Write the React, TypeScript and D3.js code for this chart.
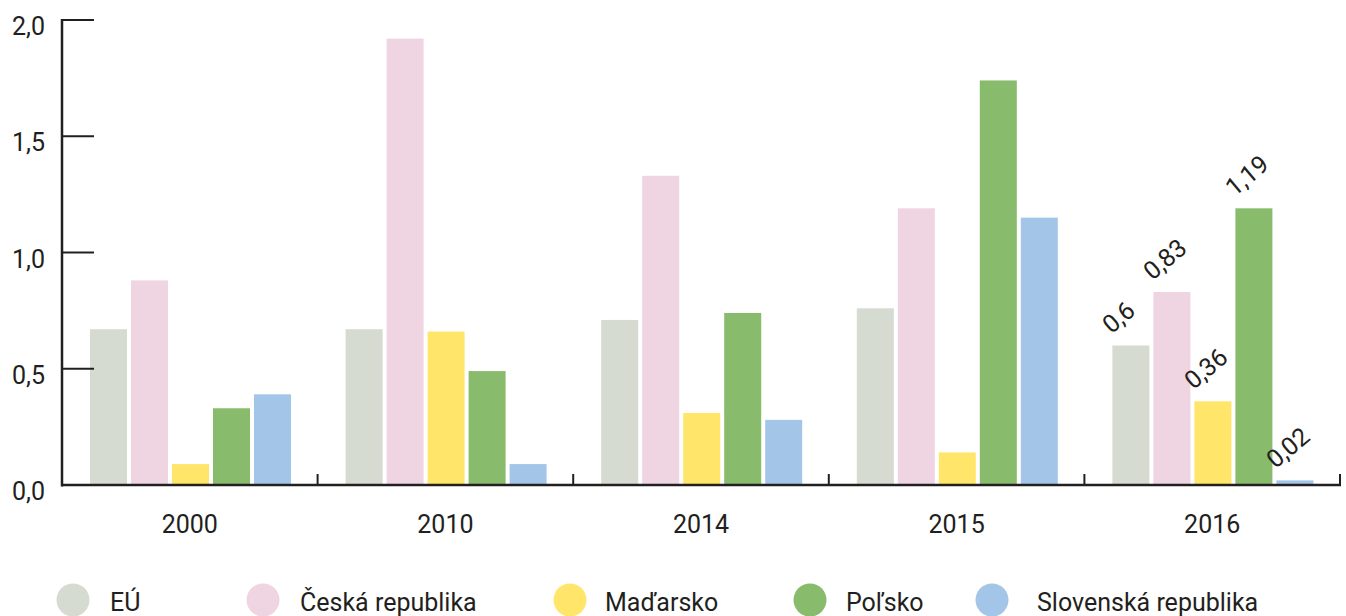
import React, { useEffect, useRef } from "react";
import * as d3 from "d3";

// Years on the x axis
const years = ["2000", "2010", "2014", "2015", "2016"];
// Series (countries)
const countries = ["EÚ", "Česká republika", "Maďarsko", "Poľsko", "Slovenská republika"];
const colors = ["#d5dbd0", "#efd4e2", "#ffe66b", "#88bb6b", "#a3c6e8"];

// values per country, in the order of years
const euValues = [0.67, 0.67, 0.71, 0.76, 0.6];
const czValues = [0.88, 1.92, 1.33, 1.19, 0.83];
const huValues = [0.09, 0.66, 0.31, 0.14, 0.36];
const plValues = [0.33, 0.49, 0.74, 1.74, 1.19];
const skValues = [0.39, 0.09, 0.28, 1.15, 0.02];
const seriesValues = [euValues, czValues, huValues, plValues, skValues];

// only the last year has labels
const labelledYear = "2016";
const yTicks = [0, 0.5, 1.0, 1.5, 2.0];

// legend layout
const legendCircleX = [73, 263, 570, 810, 992];
const legendTextX = [110, 300, 605, 846, 1037];

const FONT = "Roboto, 'Noto Sans', sans-serif";

export default function App() {
  const ref = useRef<SVGSVGElement>(null);

  useEffect(() => {
    const svg = d3.select(ref.current);
    svg.selectAll("*").remove();

    const left = 62,
      right = 1340,
      top = 20,
      bottom = 485;
    const ink = "#231f20";

    const x0 = d3.scaleBand().domain(years).range([left, right]).padding(0);
    const gw = x0.bandwidth();
    const x1 = d3
      .scaleBand()
      .domain(countries)
      .range([28, gw - 26.6])
      .paddingInner(4 / 41)
      .paddingOuter(0);
    const y = d3.scaleLinear().domain([0, 2]).range([bottom, top]);

    // bars
    countries.forEach((c, ci) => {
      svg
        .append("g")
        .selectAll("rect")
        .data(years.map((yr, i) => ({ yr, v: seriesValues[ci][i] })))
        .join("rect")
        .attr("x", (d) => x0(d.yr)! + x1(c)!)
        .attr("y", (d) => y(d.v))
        .attr("width", x1.bandwidth())
        .attr("height", (d) => bottom - y(d.v))
        .attr("fill", colors[ci]);
    });

    // value labels on last year
    const li = years.indexOf(labelledYear);
    countries.forEach((c, ci) => {
      const v = seriesValues[ci][li];
      const lx = x0(labelledYear)! + x1(c)! - 1;
      const ly = y(v) - 11;
      svg
        .append("text")
        .attr("transform", `translate(${lx},${ly}) rotate(-40)`)
        .attr("font-family", FONT)
        .attr("font-size", 25)
        .attr("fill", ink)
        .text(String(v).replace(".", ","));
    });

    // y axis
    svg
      .append("line")
      .attr("x1", left)
      .attr("x2", left)
      .attr("y1", top - 1)
      .attr("y2", bottom + 1.5)
      .attr("stroke", ink)
      .attr("stroke-width", 2.5);
    svg
      .append("g")
      .selectAll("line")
      .data(yTicks)
      .join("line")
      .attr("x1", left)
      .attr("x2", left + 32)
      .attr("y1", (d) => y(d))
      .attr("y2", (d) => y(d))
      .attr("stroke", ink)
      .attr("stroke-width", 2);
    svg
      .append("g")
      .selectAll("text")
      .data(yTicks)
      .join("text")
      .attr("x", 45)
      .attr("y", (d) => y(d) + 15)
      .attr("text-anchor", "end")
      .attr("font-family", FONT)
      .attr("font-size", 25)
      .attr("fill", ink)
      .text((d) => d3.format(".1f")(d).replace(".", ","));

    // x axis
    svg
      .append("line")
      .attr("x1", left)
      .attr("x2", right + 1)
      .attr("y1", bottom)
      .attr("y2", bottom)
      .attr("stroke", ink)
      .attr("stroke-width", 2.5);
    const bounds = years.map((yr) => x0(yr)! + gw);
    svg
      .append("g")
      .selectAll("line")
      .data(bounds)
      .join("line")
      .attr("x1", (d) => d)
      .attr("x2", (d) => d)
      .attr("y1", bottom)
      .attr("y2", bottom - 11)
      .attr("stroke", ink)
      .attr("stroke-width", 2);
    svg
      .append("g")
      .selectAll("text")
      .data(years)
      .join("text")
      .attr("x", (d) => x0(d)! + gw / 2)
      .attr("y", 533)
      .attr("text-anchor", "middle")
      .attr("font-family", FONT)
      .attr("font-size", 25)
      .attr("fill", ink)
      .text((d) => d);

    // legend
    const lg = svg.append("g");
    countries.forEach((c, i) => {
      lg.append("circle")
        .attr("cx", legendCircleX[i])
        .attr("cy", 600)
        .attr("r", 16.5)
        .attr("fill", colors[i]);
      lg.append("text")
        .attr("x", legendTextX[i])
        .attr("y", 611)
        .attr("font-family", FONT)
        .attr("font-size", 25)
        .attr("fill", ink)
        .text(c);
    });
  }, []);

  return (
    <svg
      ref={ref}
      width={1346}
      height={616}
      style={{ position: "absolute", left: 0, top: 0, background: "#fff" }}
    ></svg>
  );
}
